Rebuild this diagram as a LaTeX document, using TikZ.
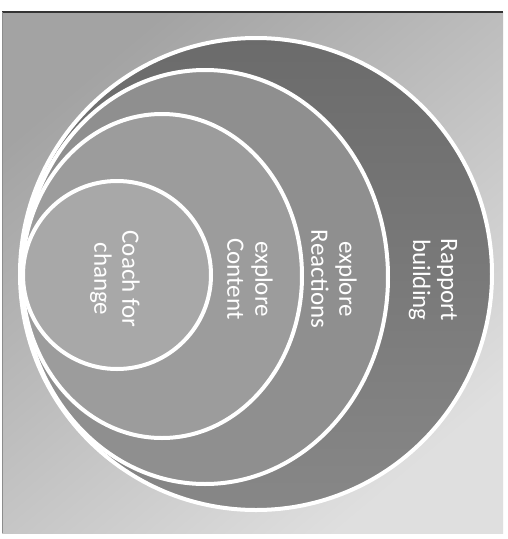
\documentclass[tikz,border=0pt]{standalone}
\usepackage{fontspec}
\setmainfont{Carlito}
\begin{document}
\begin{tikzpicture}[x=1pt,y=-1pt,
  ring/.style={draw=white,line width=4pt},
  lbl/.style={text=white,rotate=-90,align=center,font=\fontsize{25}{28}\selectfont,inner sep=0pt}]
\useasboundingbox (0,0) rectangle (508,539);
\fill[white] (0,0) rectangle (508,539);
% background panel
\shade[top color=gray!72,bottom color=gray!25,shading angle=40] (2,12) rectangle (503,533);
\draw[black!80,line width=1.2pt] (2,12) -- (503,12);
\draw[black!45,line width=0.8pt] (2,12) -- (2,533);
% nested rings
\shade[top color=black!58,bottom color=black!47,ring] (256,274) circle (236);
\draw[ring,fill=black!44] (205,277) ellipse [x radius=183,y radius=207];
\draw[ring,fill=black!39] (162,276) ellipse [x radius=140,y radius=162];
\draw[ring,fill=black!34] (117,275) circle (94);
% labels
\node[lbl] (rapport) at (433,280) {Rapport\\building};
\node[lbl] (reactions) at (334,279) {explore\\Reactions};
\node[lbl] (content) at (250,279) {explore\\Content};
\node[lbl] (coach) at (115,279) {Coach for\\change};
\end{tikzpicture}
\end{document}
